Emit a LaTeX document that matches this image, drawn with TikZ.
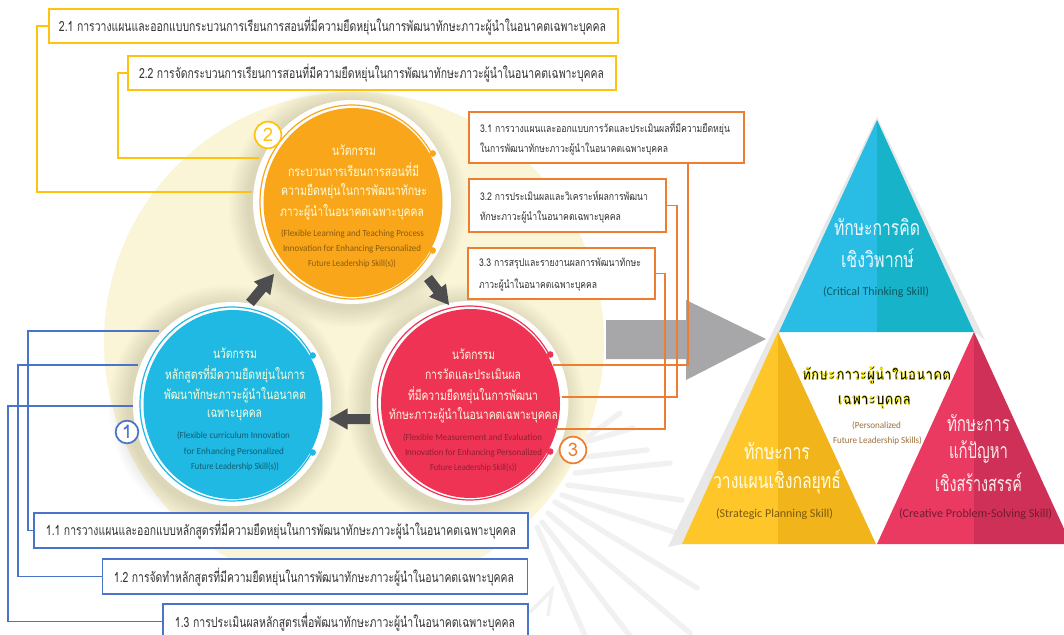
\documentclass[tikz,border=0pt]{standalone}
\usepackage{fontspec}
\usepackage{graphicx}
\usetikzlibrary{calc}
\setmainfont[Script=Thai]{Loma}
\newfontfamily\lat{Carlito}
\definecolor{cgold}{HTML}{FFC20E}
\definecolor{cblue}{HTML}{4A74C9}
\definecolor{corange}{HTML}{ED7D31}
\definecolor{bgpale}{HTML}{FAF5D7}
\definecolor{forange}{HTML}{FAA61A}
\definecolor{fblue}{HTML}{1FB9E3}
\definecolor{fred}{HTML}{EF3355}
\definecolor{darrow}{HTML}{4D4D4F}
\definecolor{garrow}{HTML}{A7A7A9}
\definecolor{ray}{HTML}{F1F1F1}
\definecolor{ta}{HTML}{29BDE6}
\definecolor{tb}{HTML}{17B3C8}
\definecolor{tc}{HTML}{FFC629}
\definecolor{td}{HTML}{F2B41B}
\definecolor{te}{HTML}{EA3A62}
\definecolor{tf}{HTML}{CF3058}
\tikzset{
  ln/.style={line width=1pt},
  bx/.style={draw,fill=white,line width=1.2pt,inner sep=0pt},
  lbl/.style={inner sep=0pt,outer sep=0pt,anchor=center},
  raysty/.style={draw=ray,line width=4pt,line cap=round},
  numc/.style={circle,fill=white,draw,line width=1.3pt,minimum size=20pt,inner sep=0pt,font=\fontsize{14}{14}\selectfont},
}
% name, x0, x1, y, size(pt), colour, text: text scaled horizontally to span x0..x1
\newcommand{\tx}[7]{%
  \node[lbl,text=#6] (#1) at ({(#2+#3)/2},#4) {\fontsize{#5}{#5}\selectfont\pgfmathsetlengthmacro{\wdd}{(#3-#2)*0.75}\resizebox{\wdd}{\height}{#7}};}
\newcommand{\blockarrow}[2]{%
  \coordinate (hb) at ($(#2)!14pt!(#1)$);
  \fill[darrow] (#2) -- ($(hb)!8pt!90:(#2)$) -- ($(hb)!3.75pt!90:(#2)$) -- ($(#1)!3.75pt!90:(#2)$) -- ($(#1)!3.75pt!-90:(#2)$) -- ($(hb)!3.75pt!-90:(#2)$) -- ($(hb)!8pt!-90:(#2)$) -- cycle;}
\newcommand{\disc}[4]{% name cx cy fill
  \foreach \s in {1,...,10}{\fill[black,opacity=.012] ({#2-4},{#3+3}) ellipse ({99+2*\s} and {102+2*\s});}
  \fill[white] (#2,#3) ellipse (99 and 102);
  \node[lbl] (#1) at (#2,#3) {};
  \fill[#4] ({#2+1},{#3+.5}) ellipse (89.5 and 94.5);
  \draw[#4,line width=.9pt] ({#2+92*cos(30)},{#3-97*sin(30)}) arc[start angle=30,end angle=330,x radius=92,y radius=-97];
  \fill[#4] ({#2+92*cos(30)+1},{#3-97*sin(30)}) circle (3.3);
  \fill[#4] ({#2+92*cos(30)+1},{#3+97*sin(30)}) circle (3.3);
}
\begin{document}
\begin{tikzpicture}[x=0.75pt,y=-0.75pt]
\useasboundingbox (0,0) rectangle (1064,635);
\fill[white] (0,0) rectangle (1064,635);
% watermark rays
\foreach \a/\b/\c/\d in {588/437/620/413, 585/442/633/428, 585/457/647/450, 575/473/670/463, 568/485/682/500, 562/495/677/533, 555/502/697/588, 548/513/690/633, 542/522/633/640, 537/527/587/640}{
  \draw[raysty] (\a,\b) -- (\c,\d);}
\draw[raysty,line width=2.5pt] (530,612) -- (552,590) -- (548,615);
% background disc
\fill[bgpale] (354,342) circle (250);
% triangles shadow
\fill[black!9] (877,117) -- (668,547) -- (682,544) -- (877,122) -- cycle;
\fill[black!9] (877,117) -- (985,340) -- (974,332) -- (877,122) -- cycle;
% big grey arrow
\fill[garrow] (606,320) -- (686,320) -- (686,300) -- (766,339) -- (686,380) -- (686,359) -- (606,359) -- cycle;
% circles
\disc{c2}{352}{202}{forange}
\disc{c1}{232}{404}{fblue}
\disc{c3}{469.5}{403}{fred}
% block arrows
\coordinate (a1t) at (250,303); \coordinate (a1h) at (274,274);
\coordinate (a2t) at (428,278); \coordinate (a2h) at (449,305);
\coordinate (a3t) at (370,419); \coordinate (a3h) at (329,419);
\blockarrow{a1t}{a1h}\blockarrow{a2t}{a2h}\blockarrow{a3t}{a3h}
% connectors
\coordinate (e21) at (252,192); \coordinate (e22) at (259,158);
\coordinate (e11) at (159,331); \coordinate (e12) at (138,365); \coordinate (e13) at (133,406);
\coordinate (e31) at (553,365); \coordinate (e32) at (562,397); \coordinate (e33) at (555,429);
% boxes
\node[bx,draw=cgold,minimum width=426.5pt,minimum height=25.5pt] (b21) at (333.5,26) {};
\node[bx,draw=cgold,minimum width=366pt,minimum height=25.5pt] (b22) at (372,73) {};
\node[bx,draw=cblue,minimum width=370.5pt,minimum height=26pt] (b11) at (281,530.5) {};
\node[bx,draw=cblue,minimum width=319pt,minimum height=26pt] (b12) at (315,576.5) {};
\node[bx,draw=cblue,minimum width=273.5pt,minimum height=26pt] (b13) at (345.5,621.5) {};
\node[bx,draw=corange,minimum width=206pt,minimum height=38pt] (b31) at (606.5,137.5) {};
\node[bx,draw=corange,minimum width=147.5pt,minimum height=39.5pt] (b32) at (567.5,205.5) {};
\node[bx,draw=corange,minimum width=140pt,minimum height=38pt] (b33) at (561.5,273.5) {};
\draw[ln,cgold] (b21.west) -- (37,26) -- (37,192) -- (e21);
\draw[ln,cgold] (b22.west) -- (118,73) -- (118,158) -- (e22);
\draw[ln,cblue] (b11.west) -- (28,530.5) -- (28,331) -- (e11);
\draw[ln,cblue] (b12.west) -- (18,576.5) -- (18,365) -- (e12);
\draw[ln,cblue] (b13.west) -- (8,621.5) -- (8,406) -- (e13);
\draw[ln,corange] (b31.south -| 688,163) -- (688,365) -- (e31);
\draw[ln,corange] (b32.east) -- (677,205.5) -- (677,397) -- (e32);
\draw[ln,corange] (b33.east) -- (665,273.5) -- (665,429) -- (e33);
% numbers
\node[numc,draw=cgold,text=cgold] (n2) at (268,135) {2};
\node[numc,draw=cblue,text=cblue,minimum size=17pt] (n1) at (127,432) {1};
\node[numc,draw=corange,text=corange] (n3) at (573,450) {3};
% box texts
\tx{t21}{59}{606}{26}{10.5}{black!80}{2.1 การวางแผนและออกแบบกระบวนการเรียนการสอนที่มีความยืดหยุ่นในการพัฒนาทักษะภาวะผู้นำในอนาคตเฉพาะบุคคล}
\tx{t22}{139}{604}{73}{10.5}{black!80}{2.2 การจัดกระบวนการเรียนการสอนที่มีความยืดหยุ่นในการพัฒนาทักษะภาวะผู้นำในอนาคตเฉพาะบุคคล}
\tx{t11}{46}{516}{530}{10.5}{black!80}{1.1 การวางแผนและออกแบบหลักสูตรที่มีความยืดหยุ่นในการพัฒนาทักษะภาวะผู้นำในอนาคตเฉพาะบุคคล}
\tx{t12}{114}{514}{577}{10.5}{black!80}{1.2 การจัดทำหลักสูตรที่มีความยืดหยุ่นในการพัฒนาทักษะภาวะผู้นำในอนาคตเฉพาะบุคคล}
\tx{t13}{175}{515}{622}{10.5}{black!80}{1.3 การประเมินผลหลักสูตรเพื่อพัฒนาทักษะภาวะผู้นำในอนาคตเฉพาะบุคคล}
\tx{t31a}{480}{730}{128}{8}{black!80}{3.1 การวางแผนและออกแบบการวัดและประเมินผลที่มีความยืดหยุ่น}
\tx{t31b}{480}{668}{149}{8}{black!80}{ในการพัฒนาทักษะภาวะผู้นำในอนาคตเฉพาะบุคคล}
\tx{t32a}{480}{648}{196}{8}{black!80}{3.2 การประเมินผลและวิเคราะห์ผลการพัฒนา}
\tx{t32b}{480}{621}{217}{8}{black!80}{ทักษะภาวะผู้นำในอนาคตเฉพาะบุคคล}
\tx{t33a}{479}{641}{264}{8}{black!80}{3.3 การสรุปและรายงานผลการพัฒนาทักษะ}
\tx{t33b}{479}{597}{285}{8}{black!80}{ภาวะผู้นำในอนาคตเฉพาะบุคคล}
% orange circle texts
\colorlet{hd}{white!85!yellow}
\tx{o1}{332}{376}{150}{10}{hd}{นวัตกรรม}
\tx{o2}{288}{419}{170}{10}{hd}{กระบวนการเรียนการสอนที่มี}
\tx{o3}{281}{427}{191}{10}{hd}{ความยืดหยุ่นในการพัฒนาทักษะ}
\tx{o4}{280}{424}{212}{10}{hd}{ภาวะผู้นำในอนาคตเฉพาะบุคคล}
\colorlet{eo}{forange!55!black}
\tx{o5}{281}{424}{234}{7}{eo}{\lat (Flexible Learning and Teaching Process}
\tx{o6}{283}{421}{249}{7}{eo}{\lat Innovation for Enhancing Personalized}
\tx{o7}{308}{396}{264}{7}{eo}{\lat Future Leadership Skill(s))}
% blue circle texts
\tx{u1}{213}{257}{353}{10}{hd}{นวัตกรรม}
\tx{u2}{165}{305}{374}{10}{hd}{หลักสูตรที่มีความยืดหยุ่นในการ}
\tx{u3}{164}{306}{395}{10}{hd}{พัฒนาทักษะภาวะผู้นำในอนาคต}
\tx{u4}{207}{262}{415}{10}{hd}{เฉพาะบุคคล}
\colorlet{eb}{fblue!50!black}
\tx{u5}{177}{290}{436}{7}{eb}{\lat (Flexible curriculum Innovation}
\tx{u6}{184}{284}{452}{7}{eb}{\lat for Enhancing Personalized}
\tx{u7}{191}{279}{467}{7}{eb}{\lat Future Leadership Skill(s))}
% red circle texts
\tx{r1}{452}{495}{354}{10}{hd}{นวัตกรรม}
\tx{r2}{425}{521}{374}{10}{hd}{การวัดและประเมินผล}
\tx{r3}{408}{538}{395}{10}{hd}{ที่มีความยืดหยุ่นในการพัฒนา}
\tx{r4}{389}{558}{415}{10}{hd}{ทักษะภาวะผู้นำในอนาคตเฉพาะบุคคล}
\colorlet{er}{fred!60!black}
\tx{r5}{403}{542}{438}{7}{er}{\lat (Flexible Measurement and Evaluation}
\tx{r6}{405}{542}{453}{7}{er}{\lat Innovation for Enhancing Personalized}
\tx{r7}{430}{517}{468}{7}{er}{\lat Future Leadership Skill(s))}
% triangles
\fill[ta] (877,120) -- (779,332) -- (877,332) -- cycle;
\fill[tb] (877,120) -- (974,332) -- (877,332) -- cycle;
\fill[tc] (778,332) -- (682,544) -- (778,544) -- cycle;
\fill[td] (778,332) -- (876,544) -- (778,544) -- cycle;
\fill[te] (974,332) -- (877,544) -- (974,544) -- cycle;
\fill[tf] (974,332) -- (1071,544) -- (974,544) -- cycle;
% triangle texts
\tx{p1}{834}{920}{227}{16}{white!92!cyan}{ทักษะการคิด}
\tx{p2}{841}{914}{258}{16}{white!92!cyan}{เชิงวิพากษ์}
\tx{p3}{823}{929}{292}{9}{tb!50!black}{\lat (Critical Thinking Skill)}
\tx{q1}{744}{810}{451}{16}{white!90!yellow}{ทักษะการ}
\tx{q2}{713}{841}{482}{16}{white!90!yellow}{วางแผนเชิงกลยุทธ์}
\tx{q3}{716}{833}{514}{9}{td!50!black}{\lat (Strategic Planning Skill)}
\tx{s1}{947}{1010}{423}{16}{white!92!red}{ทักษะการ}
\tx{s2}{949}{1008}{452}{16}{white!92!red}{แก้ปัญหา}
\tx{s3}{935}{1022}{482}{16}{white!92!red}{เชิงสร้างสรรค์}
\tx{s4}{899}{1052}{514}{9}{tf!55!black}{\lat (Creative Problem-Solving Skill)}
\tx{m1}{802}{951}{375}{12}{black}{\special{pdf:code q 2 Tr 0.3 w 1 0.95 0.1 RG}\bfseries ทักษะภาวะผู้นำในอนาคต\special{pdf:code Q}}
\tx{m2}{838}{911}{402}{12}{black}{\special{pdf:code q 2 Tr 0.3 w 1 0.95 0.1 RG}\bfseries เฉพาะบุคคล\special{pdf:code Q}}
\tx{m3}{852}{901}{426}{7}{black!60!yellow!70!red}{\lat (Personalized}
\tx{m4}{833}{922}{441}{7}{black!60!yellow!70!red}{\lat Future Leadership Skills)}
\end{tikzpicture}
\end{document}
